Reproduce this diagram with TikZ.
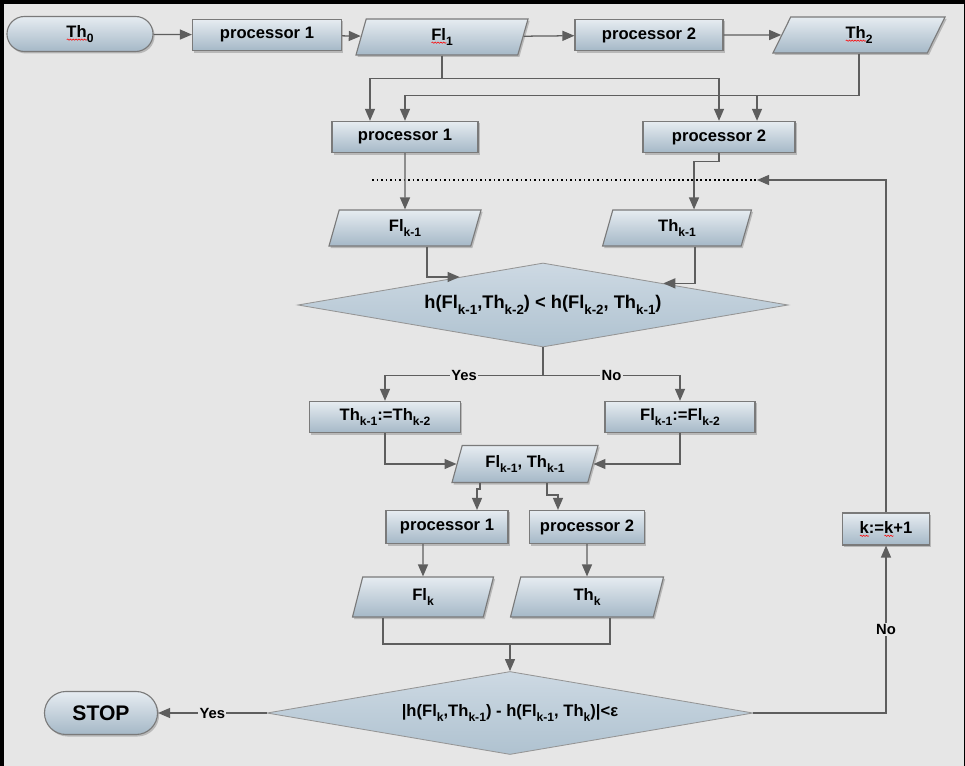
\documentclass[tikz,border=0pt]{standalone}
\usepackage{fontspec}
\setmainfont{Liberation Sans}
\usetikzlibrary{shapes.geometric,shapes.misc,arrows.meta,shadows,calc,decorations.pathmorphing}

\definecolor{paper}{HTML}{E6E6E6}
\definecolor{boxtop}{HTML}{E6ECF1}
\definecolor{boxbot}{HTML}{A5B8C7}
\definecolor{edge}{HTML}{7A7A7A}
\definecolor{wire}{HTML}{5E5E5E}
\definecolor{ditop}{HTML}{CDD9E3}
\definecolor{dibot}{HTML}{AFC2D0}

% red squiggle under words
\newsavebox\spellbox
\newcommand\spell[1]{\sbox\spellbox{#1}\rlap{\tikz[baseline=0pt]\draw[red, line width=0.4pt,
    decorate, decoration={snake, amplitude=0.45pt, segment length=2pt}]
    (0pt,-1.8pt) -- (\wd\spellbox,-1.8pt);}#1}
% lowered index
\makeatletter
\newcommand\lo[1]{\raisebox{-0.65ex}{\fontsize{\fpeval{0.73*\f@size}}{9}\selectfont #1}}
\makeatother

\begin{document}
\begin{tikzpicture}[x=0.025cm, y=-0.025cm,
  font=\fontsize{11.8}{14}\selectfont\bfseries,
  base/.style={draw=edge, line width=0.8pt, top color=boxtop, bottom color=boxbot,
    inner sep=0pt, drop shadow={shadow xshift=0.04cm, shadow yshift=-0.05cm, opacity=0.45}},
  proc/.style={base, rectangle, minimum height=0.78cm},
  io/.style={base, trapezium, trapezium left angle=60, trapezium right angle=120,
    trapezium stretches body, minimum height=0.9cm},
  term/.style={base, rounded rectangle},
  cond/.style={diamond, aspect=5.8, draw=edge!80, line width=0.6pt, top color=ditop, bottom color=dibot, inner sep=0pt},
  line/.style={draw=wire, line width=0.9pt},
  arr/.style={line, -{Triangle[length=0.3cm,width=0.25cm]}},
  lbl/.style={fill=paper, inner sep=1pt, font=\fontsize{10.5}{12}\selectfont\bfseries}]

% frame
\fill[black] (0,0) rectangle (965,766);
\fill[paper] (4,4) rectangle (964,766);

% first pass
\node[term, minimum width=3.65cm, minimum height=0.875cm] (th0) at (80,34) {\spell{Th}\lo{0}};
\node[proc, minimum width=3.725cm] (p1a) at (267,35) {processor 1};
\node[io, minimum width=4.3cm] (fl1) at (442,37) {\spell{Fl}\lo{1}};
\node[proc, minimum width=3.7cm] (p2a) at (649,35) {processor 2};
\node[io, trapezium left angle=45, trapezium right angle=135, minimum width=4.3cm] (th2) at (859,35) {\spell{Th}\lo{2}};

\node[proc, minimum width=3.65cm] (p1b) at (405,137) {processor 1};
\node[proc, minimum width=3.8cm] (p2b) at (719,137) {processor 2};

\coordinate (dl) at (372,180);
\coordinate (dr) at (757,180);

% loop body
\node[io, minimum width=3.8cm] (flk1) at (405,228) {Fl\lo{k-1}};
\node[io, minimum width=3.72cm] (thk1) at (677,228) {Th\lo{k-1}};
\node[cond, minimum width=12.25cm, minimum height=2.1cm, font=\fontsize{13}{15}\selectfont\bfseries] (d1) at (543,305)
  {h(Fl\lo{k-1},Th\lo{k-2}) < h(Fl\lo{k-2}, Th\lo{k-1})};

\node[proc, minimum width=3.775cm] (ath) at (385,417) {Th\lo{k-1}:=Th\lo{k-2}};
\node[proc, minimum width=3.75cm] (afl) at (680,417) {Fl\lo{k-1}:=Fl\lo{k-2}};
\node[io, minimum width=3.65cm, minimum height=0.925cm] (flth) at (525,464) {Fl\lo{k-1}, Th\lo{k-1}};

\node[proc, minimum width=3.05cm, minimum height=0.825cm] (p1c) at (447,527) {processor 1};
\node[proc, minimum width=2.875cm, minimum height=0.825cm] (p2c) at (587,527) {processor 2};
\node[io, minimum width=3.525cm, minimum height=1cm] (flk) at (423,597) {Fl\lo{k}};
\node[io, minimum width=3.825cm, minimum height=1cm] (thk) at (587,597) {Th\lo{k}};
\node[cond, minimum width=12.15cm, minimum height=2.075cm] (d2) at (510,713)
  {|h(Fl\lo{k},Th\lo{k-1}) - h(Fl\lo{k-1}, Th\lo{k})|<ε};

\node[term, minimum width=2.825cm, minimum height=1.075cm, font=\fontsize{15}{17}\selectfont\bfseries] (stop) at (101,713) {STOP};
\node[proc, minimum width=2.175cm, minimum height=0.8cm] (kinc) at (886,529) {\spell{k}:=\spell{k}+1};

% connectors
\draw[arr] (th0) -- (p1a);
\draw[arr] (p1a) -- (fl1);
\draw[arr] (fl1) -- (p2a);
\draw[arr] (p2a) -- (th2);

\draw[arr] (fl1.south) |- ([xshift=-0.875cm,yshift=1.05cm]p1b.north) -- ([xshift=-0.875cm]p1b.north);
\draw[arr] (fl1.south) |- ([yshift=1.05cm]p2b.north) -- (p2b.north);
\draw[arr] (th2.south) |- ([yshift=0.625cm]p1b.north) -- (p1b.north);
\draw[arr] (th2.south) |- ([xshift=0.95cm,yshift=0.625cm]p2b.north) -- ([xshift=0.95cm]p2b.north);

\draw[dotted, line width=1.2pt] (dl) -- (dr);
\draw[arr] (p1b) -- (flk1);
\draw[arr] (p2b.south) -- ++(0,-0.2cm) -| ([xshift=0.425cm]thk1.north);

\draw[arr] ([xshift=0.55cm]flk1.south) |- ($(d1.west)!0.66!(d1.north)$);
\draw[arr] ([xshift=0.45cm]thk1.south) |- ($(d1.north)!0.49!(d1.east)$);

\draw[arr] (d1.south) -- ++(0,-0.7cm) -| node[lbl, pos=0.25] {Yes} (ath.north);
\draw[arr] (d1.south) -- ++(0,-0.7cm) -| node[lbl, pos=0.25] {No} (afl.north);
\draw[arr] (ath.south) |- (flth.west);
\draw[arr] (afl.south) |- (flth.east);

\draw[arr] ([xshift=-1.125cm]flth.south) -- ++(0,-0.15cm) -| ([xshift=0.75cm]p1c.north);
\draw[arr] ([xshift=0.55cm]flth.south) -- ++(0,-0.3cm) -| ([xshift=-0.725cm]p2c.north);
\draw[arr] ([xshift=-0.6cm]p1c.south) -- (flk.north);
\draw[arr] (p2c) -- (thk);

\draw[line] ([xshift=-1cm]flk.south) |- ([yshift=0.675cm]d2.north);
\draw[line] ([xshift=0.575cm]thk.south) |- ([yshift=0.675cm]d2.north);
\draw[arr] ([yshift=0.675cm]d2.north) -- (d2.north);

\draw[arr] (d2.west) -- node[lbl] {Yes} (stop.east);
\draw[arr] (d2.east) -| node[lbl, pos=0.75] {No} (kinc.south);
\draw[arr] (kinc.north) |- (dr);
\end{tikzpicture}
\end{document}
